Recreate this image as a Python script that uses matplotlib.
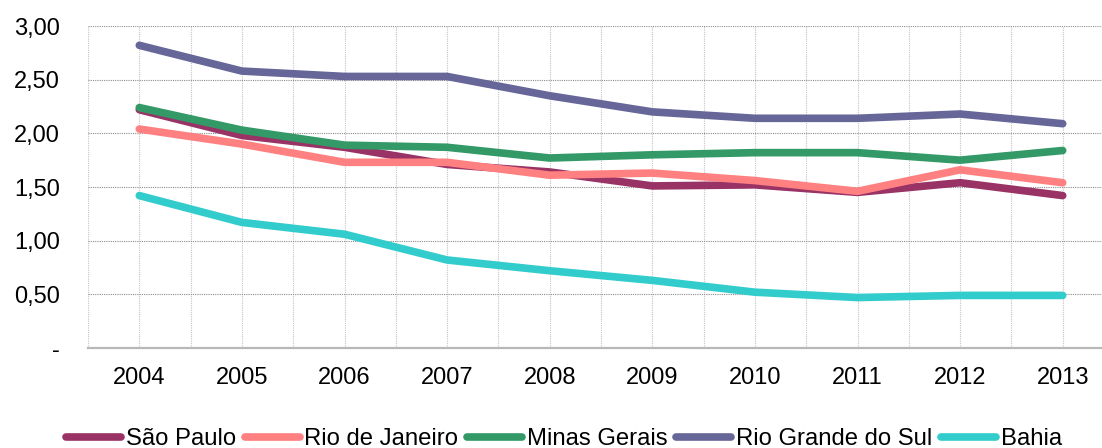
import matplotlib
matplotlib.use("Agg")
import matplotlib.pyplot as plt
import numpy as np

plt.rcParams['font.family'] = ['Liberation Sans', 'DejaVu Sans']

years = ['2004', '2005', '2006', '2007', '2008', '2009', '2010', '2011', '2012', '2013']
sao_paulo = [2.22, 1.98, 1.87, 1.71, 1.64, 1.51, 1.52, 1.45, 1.54, 1.42]
rio_de_janeiro = [2.04, 1.90, 1.73, 1.73, 1.61, 1.63, 1.56, 1.46, 1.66, 1.54]
minas_gerais = [2.24, 2.03, 1.89, 1.87, 1.77, 1.80, 1.82, 1.82, 1.75, 1.84]
rio_grande_do_sul = [2.82, 2.58, 2.53, 2.53, 2.35, 2.20, 2.14, 2.14, 2.18, 2.09]
bahia = [1.42, 1.17, 1.06, 0.82, 0.72, 0.63, 0.52, 0.47, 0.49, 0.49]

series_names = ['São Paulo', 'Rio de Janeiro', 'Minas Gerais', 'Rio Grande do Sul', 'Bahia']
series_values = [sao_paulo, rio_de_janeiro, minas_gerais, rio_grande_do_sul, bahia]
colors = ['#993366', '#FF8080', '#339966', '#666699', '#33CCCC']
y_ticks = [0, 0.5, 1.0, 1.5, 2.0, 2.5, 3.0]
y_tick_labels = ['-', '0,50', '1,00', '1,50', '2,00', '2,50', '3,00']

W, H = 1102, 448
fig = plt.figure(figsize=(W / 100, H / 100), dpi=100)
left, right, top, bottom = 88, 1114, 26, 348
ax = fig.add_axes([left / W, 1 - bottom / H, (right - left) / W, (bottom - top) / H])

x = np.arange(len(years))
for name, vals, c in zip(series_names, series_values, colors):
    ax.plot(x, vals, color=c, lw=5.5, solid_capstyle='round', solid_joinstyle='round', label=name, zorder=3)

ax.set_xlim(-0.5, len(years) - 0.5)
ax.set_ylim(0, 3.0)
ax.set_yticks(y_ticks)
ax.set_yticklabels(y_tick_labels)
ax.set_xticks(x)
ax.set_xticklabels(years)
ax.set_xticks(np.arange(-0.5, len(years), 1.0), minor=True)

ax.grid(axis='y', which='major', color='#8c8c8c', linestyle=(0, (1, 1)), linewidth=0.8, zorder=0)
ax.grid(axis='x', which='both', color='#c4c4c4', linestyle=(0, (1, 1)), linewidth=0.8, zorder=0)

for s in ['top', 'right', 'left']:
    ax.spines[s].set_visible(False)
ax.spines['bottom'].set_color('#b8b8b8')
ax.spines['bottom'].set_linewidth(1.6)
ax.tick_params(axis='both', which='both', length=0, labelsize=17, colors='black')
ax.tick_params(axis='y', pad=20)
ax.tick_params(axis='x', pad=14)

leg = fig.legend(loc='center', bbox_to_anchor=(564 / W, 1 - 439 / H), ncol=5, frameon=False,
                 fontsize=17.2, handlelength=2.3, handletextpad=0.2, columnspacing=0.37,
                 borderaxespad=0, borderpad=0)
for line in leg.get_lines():
    line.set_linewidth(5.5)
    line.set_solid_capstyle('round')

fig.savefig('out.png', dpi=100)
